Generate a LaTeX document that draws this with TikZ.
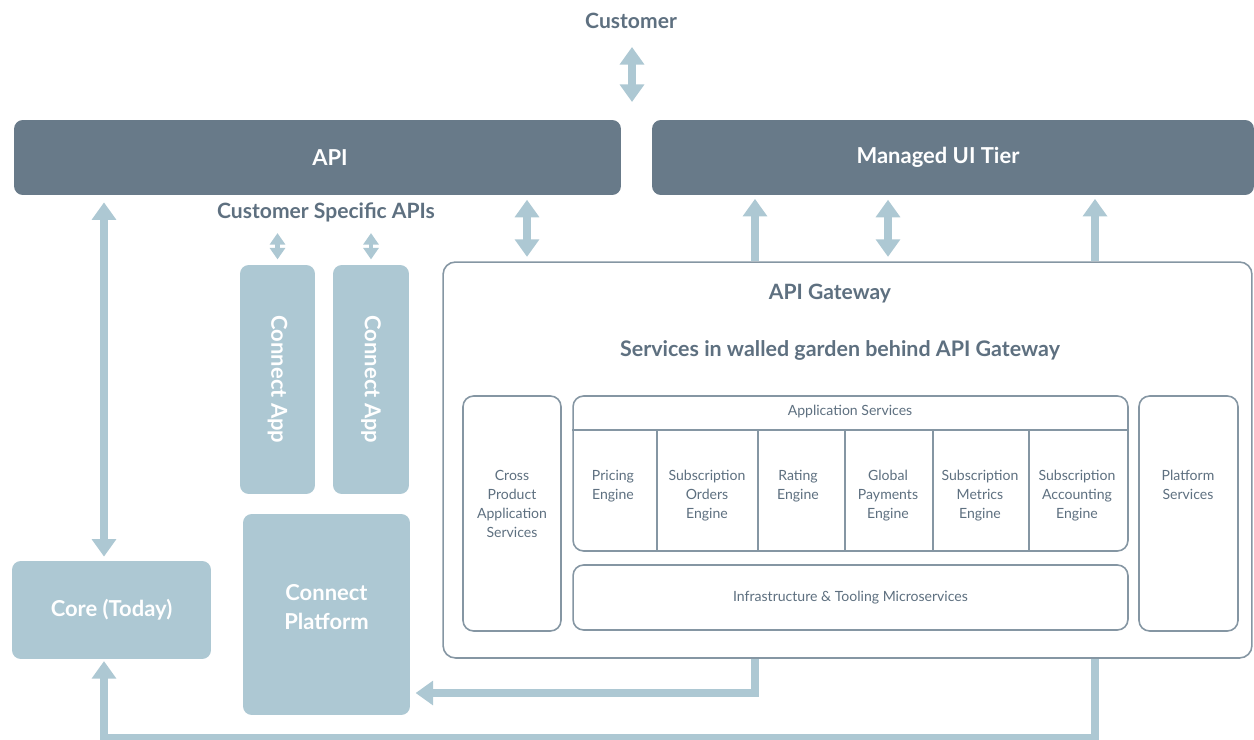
\documentclass[tikz,border=0pt]{standalone}
\usepackage{fontspec}
\setmainfont{Lato}
\usetikzlibrary{arrows.meta}
\definecolor{slate}{HTML}{687A89}
\definecolor{pale}{HTML}{ADC8D3}
\definecolor{ink}{HTML}{5E7080}
\definecolor{rim}{HTML}{8596A3}
\tikzset{
  tier/.style={rectangle,rounded corners=5pt,fill=slate,inner sep=0pt},
  tierlabel/.style={text=white,inner sep=0pt,font=\bfseries\fontsize{12.5}{15}\selectfont},
  appbox/.style={rectangle,rounded corners=5pt,fill=pale,text=white,inner sep=0pt,align=center,
    font=\bfseries\fontsize{12.5}{16.4}\selectfont},
  applabel/.style={text=white,inner sep=0pt,align=center,font=\bfseries\fontsize{12.5}{16.4}\selectfont},
  svcbox/.style={rectangle,rounded corners=6pt,draw=rim,line width=0.9pt,fill=white,inner sep=0pt},
  svctext/.style={text=ink,font=\fontsize{8}{10.8}\selectfont,align=center,inner sep=0pt},
  heading/.style={text=ink,font=\bfseries\fontsize{12}{14}\selectfont},
  bigarrow/.style={draw=pale,line width=5pt,>={Triangle[width=13.5pt,length=10pt]}},
  smallarrow/.style={draw=pale,line width=2.3pt,>={Triangle[width=8.5pt,length=6.5pt]}}
}
\begin{document}
\begin{tikzpicture}[x=0.02cm,y=-0.02cm]
  \useasboundingbox (0,0) rectangle (1254,740);

  \coordinate (lx) at (104,0);
  \coordinate (a1) at (527,0);
  \coordinate (a2) at (755,0);
  \coordinate (a3) at (888,0);
  \coordinate (a4) at (1095,0);
  \coordinate (low) at (0,693);
  \coordinate (bot) at (0,738);
  \coordinate (gap) at (632,102);

  \node[heading] (cust) at (631,21) {Customer};
  \node[tier,minimum width=12.14cm,minimum height=1.5cm,
    label={[tierlabel,xshift=0.25cm]center:API}] (api) at (317.5,157.5) {};
  \node[tier,minimum width=12.04cm,minimum height=1.5cm,
    label={[tierlabel,xshift=-0.3cm]center:Managed UI Tier}] (ui) at (953,157.5) {};
  \node[heading] (csa) at (326,212) {Customer Specific APIs};

  \node[appbox,minimum width=1.5cm,minimum height=4.58cm] (app1) at (277.5,379.5) {\rotatebox{-90}{Connect App}};
  \node[appbox,minimum width=1.52cm,minimum height=4.58cm] (app2) at (371,379.5) {\rotatebox{-90}{Connect App}};
  \node[appbox,minimum width=3.34cm,minimum height=4.02cm,
    label={[applabel,yshift=0.15cm]center:Connect\\Platform}] (cplat) at (326.5,614.5) {};
  \node[appbox,minimum width=3.98cm,minimum height=1.96cm] (core) at (111.5,610) {Core (Today)};

  % arrows under the gateway box
  \draw[bigarrow,->,shorten >=3pt] (a2 |- 0,658) -- (a2 |- low) -- (cplat.east |- low);
  \draw[bigarrow,->,shorten >=1pt] (a4 |- 0,658) -- (a4 |- bot) -- (lx |- bot) -- (core.south -| lx);

  \node[svcbox,rounded corners=7pt,minimum width=16.18cm,minimum height=7.92cm] (gw) at (847.5,460) {};
  \node[heading] (gwt) at (830,294) {API Gateway};
  \node[heading,font=\bfseries\fontsize{12.2}{15}\selectfont] (wall) at (840,350) {Services in walled garden behind API Gateway};

  \node[svcbox,minimum width=1.96cm,minimum height=4.7cm] (cross) at (512,513.5) {};
  \node[svctext,anchor=north] (crosst) at (512,470) {Cross\\Product\\Application\\Services};

  \node[svcbox,minimum width=11.1cm,minimum height=3.1cm] (apps) at (850.5,473.5) {};
  \node[svctext] (appst) at (850,412) {Application Services};
  \coordinate (hd) at (0,430);
  \draw[rim,line width=0.9pt] (apps.west |- hd) -- (apps.east |- hd);
  \foreach \x in {657,758,845,933,1029}
    \draw[rim,line width=0.9pt] (\x,430) -- (\x,551);
  \node[svctext,anchor=north] (e1) at (613,470) {Pricing\\Engine};
  \node[svctext,anchor=north] (e2) at (707,470) {Subscription\\Orders\\Engine};
  \node[svctext,anchor=north] (e3) at (798,470) {Rating\\Engine};
  \node[svctext,anchor=north] (e4) at (888,470) {Global\\Payments\\Engine};
  \node[svctext,anchor=north] (e5) at (980,470) {Subscription\\Metrics\\Engine};
  \node[svctext,anchor=north] (e6) at (1077,470) {Subscription\\Accounting\\Engine};

  \node[svcbox,minimum width=11.1cm,minimum height=1.3cm,svctext] (infra) at (850.5,597.5) {Infrastructure \& Tooling Microservices};
  \node[svcbox,minimum width=1.98cm,minimum height=4.7cm] (plat) at (1188.5,513.5) {};
  \node[svctext,anchor=north] (platt) at (1188,470) {Platform\\Services};

  \draw[bigarrow,<->] ([yshift=-0.52cm]cust.center -| gap) -- (gap);
  \draw[bigarrow,<->,shorten <=4pt,shorten >=2.3pt] (api.south -| lx) -- (core.north -| lx);
  \draw[smallarrow,<->,shorten <=3pt,shorten >=3pt] (csa.south -| app1) -- (app1.north);
  \draw[smallarrow,<->,shorten <=3pt,shorten >=3pt] (csa.south -| app2) -- (app2.north);
  \draw[bigarrow,<->,shorten <=2.5pt,shorten >=2.5pt] (api.south -| a1) -- (gw.north -| a1);
  \draw[bigarrow,->,shorten >=2pt] (gw.north -| a2) -- (ui.south -| a2);
  \draw[bigarrow,<->,shorten <=2.5pt,shorten >=2.5pt] (ui.south -| a3) -- (gw.north -| a3);
  \draw[bigarrow,->,shorten >=2pt] (gw.north -| a4) -- (ui.south -| a4);
\end{tikzpicture}
\end{document}
